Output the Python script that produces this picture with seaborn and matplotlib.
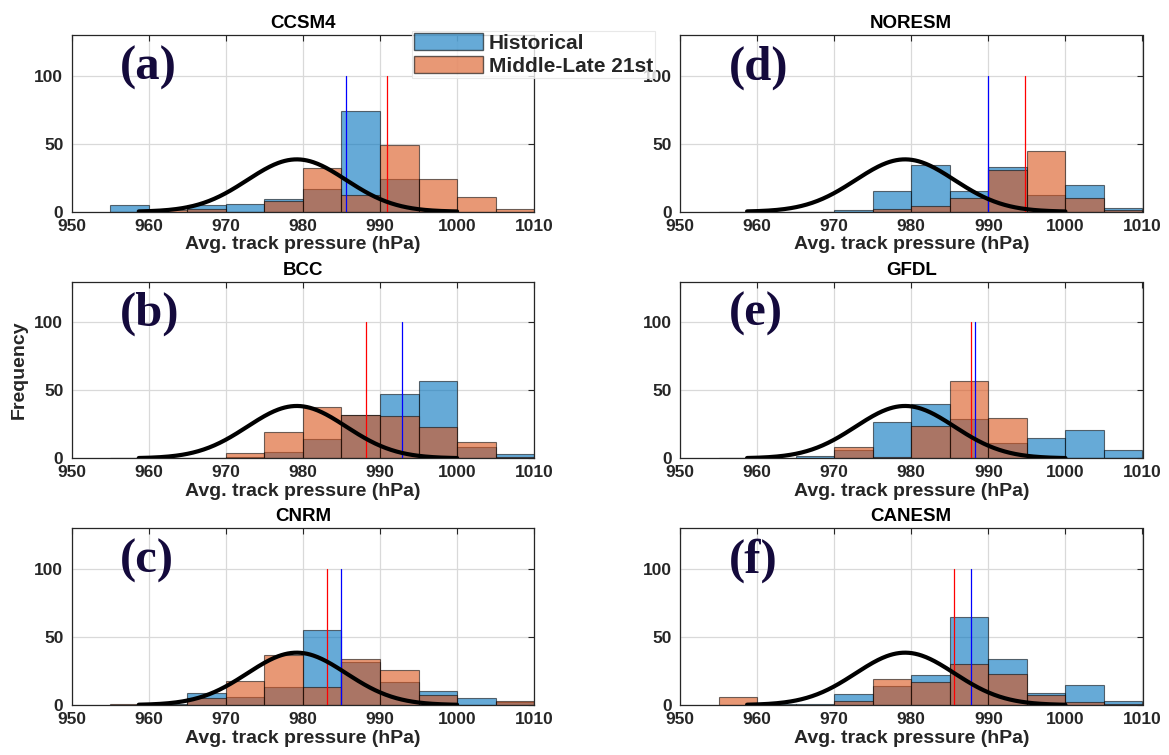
import numpy as np
import pandas as pd
import matplotlib
matplotlib.use("Agg")
import matplotlib.pyplot as plt
from matplotlib.patches import Patch
import seaborn as sns

# ---- data -------------------------------------------------------------
bin_edges = [955, 960, 965, 970, 975, 980, 985, 990, 995, 1000, 1005, 1010]

models = ["CCSM4", "BCC", "CNRM", "NORESM", "GFDL", "CANESM"]
panel_tags = ["(a)", "(b)", "(c)", "(d)", "(e)", "(f)"]

# counts per 5-hPa bin, historical period
hist_ccsm4 = [5, 0, 5, 6, 9, 17, 74, 24, 0, 0, 0]
hist_bcc = [0, 0, 0, 1, 5, 14, 32, 47, 57, 8, 3]
hist_cnrm = [0, 1, 9, 6, 13, 55, 32, 17, 10, 5, 2]
hist_noresm = [0, 0, 0, 1, 15, 34, 15, 33, 12, 20, 3]
hist_gfdl = [0, 0, 2, 6, 27, 40, 29, 11, 15, 21, 6]
hist_canesm = [0, 1, 1, 8, 14, 22, 65, 34, 9, 15, 3]

# counts per 5-hPa bin, middle-late 21st century
fut_ccsm4 = [0, 1, 2, 0, 8, 32, 12, 49, 24, 11, 2]
fut_bcc = [0, 0, 0, 4, 19, 38, 32, 31, 23, 12, 1]
fut_cnrm = [1, 0, 5, 18, 37, 13, 34, 26, 7, 0, 3]
fut_noresm = [0, 0, 0, 0, 2, 4, 10, 31, 45, 10, 1]
fut_gfdl = [0, 0, 0, 8, 1, 24, 57, 30, 0, 0, 0]
fut_canesm = [6, 0, 0, 3, 19, 17, 30, 23, 7, 2, 1]

# mean track pressure of each period (hPa)
mean_hist = [985.6, 992.8, 985.0, 990.0, 988.3, 987.8]
mean_fut = [990.9, 988.2, 983.1, 994.8, 987.7, 985.5]

# reference normal fit (observations)
ref_mu, ref_sigma, ref_peak = 979.2, 6.4, 38.5
ref_range = (958.7, 1000.0)

hist_counts = [hist_ccsm4, hist_bcc, hist_cnrm, hist_noresm, hist_gfdl, hist_canesm]
fut_counts = [fut_ccsm4, fut_bcc, fut_cnrm, fut_noresm, fut_gfdl, fut_canesm]

# ---- style ------------------------------------------------------------
sns.set_style("white")
plt.rcParams["font.family"] = ["Liberation Sans", "DejaVu Sans"]
plt.rcParams["font.weight"] = "bold"

c_hist = "#0072BD"
c_fut = "#D95319"
txt_dark = "#262626"

fig = plt.figure(figsize=(11.69, 7.55), dpi=100)

W, H = 1169.0, 755.0
col_left = [71.7 / W, 680.0 / W]
ax_w = 462.5 / W
row_bottom = [1 - 211.7 / H, 1 - 458.3 / H, 1 - 705.0 / H]
ax_h = 176.7 / H

centers = [(a + b) / 2 for a, b in zip(bin_edges[:-1], bin_edges[1:])]
xs = np.linspace(ref_range[0], ref_range[1], 300)
ref_curve = ref_peak * np.exp(-0.5 * ((xs - ref_mu) / ref_sigma) ** 2)

axes = []
for i, name in enumerate(models):
    col, row = divmod(i, 3)
    ax = fig.add_axes([col_left[col], row_bottom[row], ax_w, ax_h])
    axes.append(ax)

    df = pd.DataFrame({"p": centers, "hist": hist_counts[i], "fut": fut_counts[i]})
    sns.histplot(data=df, x="p", weights="hist", bins=bin_edges, ax=ax,
                 color=c_hist, alpha=0.6, edgecolor=(0, 0, 0, 0.55),
                 linewidth=0.8, zorder=2)
    sns.histplot(data=df, x="p", weights="fut", bins=bin_edges, ax=ax,
                 color=c_fut, alpha=0.6, edgecolor=(0, 0, 0, 0.55),
                 linewidth=0.8, zorder=2)

    ax.plot([mean_hist[i], mean_hist[i]], [0, 100], color="#0000ff", lw=0.9, zorder=3)
    ax.plot([mean_fut[i], mean_fut[i]], [0, 100], color="#ff0000", lw=0.9, zorder=3)
    sns.lineplot(x=xs, y=ref_curve, ax=ax, color="black", lw=3.0, zorder=4)

    ax.set_xlim(950, 1010)
    ax.set_ylim(0, 130)
    ax.set_xticks(range(950, 1011, 10))
    ax.set_yticks([0, 50, 100])
    ax.grid(True, color="#d9d9d9", lw=0.9, zorder=0)
    ax.set_axisbelow(True)
    ax.tick_params(direction="in", length=4, width=0.8, colors=txt_dark,
                   labelsize=12.5, top=True, right=True)
    ax.tick_params(axis="x", pad=5)
    ax.tick_params(axis="y", pad=6)
    for lab in ax.get_xticklabels() + ax.get_yticklabels():
        lab.set_fontweight("bold")
    for sp in ax.spines.values():
        sp.set_color(txt_dark)
        sp.set_linewidth(0.9)

    ax.set_title(name, fontsize=13.5, fontweight="bold", color="black", pad=5)
    ax.set_xlabel("Avg. track pressure (hPa)", fontsize=14, fontweight="bold",
                  color=txt_dark, labelpad=2)
    ax.set_ylabel("")
    ax.text(956.3, 106, panel_tags[i], fontsize=35, fontweight="bold",
            family=["Liberation Serif", "DejaVu Serif"], color="#140a3c",
            ha="left", va="center", zorder=5)

axes[1].set_ylabel("Frequency", fontsize=14, fontweight="bold", color=txt_dark,
                   labelpad=5)

handles = [Patch(facecolor=c_hist, alpha=0.6, edgecolor="black", lw=1.0),
           Patch(facecolor=c_fut, alpha=0.6, edgecolor="black", lw=1.0)]
leg = fig.legend(handles, ["Historical", "Middle-Late 21st"],
                 loc="upper left", bbox_to_anchor=(412 / W, 1 - 31 / H),
                 frameon=True, fancybox=False,
                 prop={"weight": "bold", "size": 15},
                 handlelength=3.3, handleheight=0.9, handletextpad=0.3,
                 borderpad=0.1, labelspacing=0.15, borderaxespad=0)
leg.get_frame().set_edgecolor("#e3e3e3")
leg.get_frame().set_linewidth(0.8)

fig.savefig("out.png", dpi=100)
